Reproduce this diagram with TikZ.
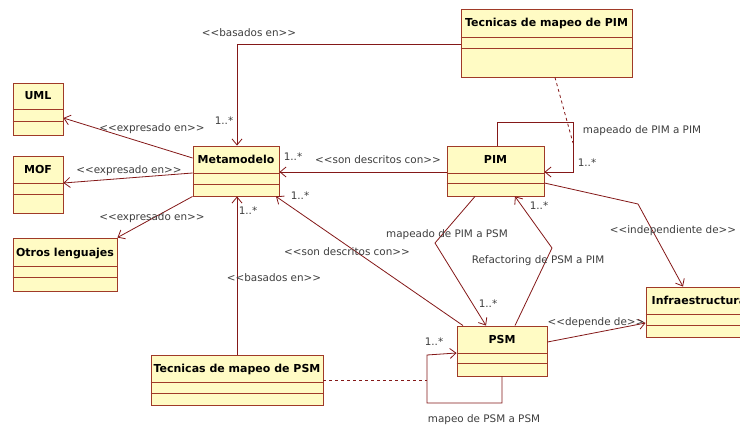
\documentclass[tikz,border=0pt]{standalone}
\usepackage{fontspec}
\setmainfont{DejaVu Sans}
\usetikzlibrary{arrows.meta}

\definecolor{clsfill}{RGB}{255,251,196}
\definecolor{clsedge}{RGB}{160,58,40}
\definecolor{wire}{RGB}{132,24,24}
\definecolor{lbl}{RGB}{62,62,62}

\tikzset{
  cls/.style={rectangle, draw=clsedge, fill=clsfill, line width=0.9pt, inner sep=0pt},
  sepline/.style={draw=clsedge, line width=0.9pt},
  ttl/.style={font=\fontsize{11}{13}\selectfont\bfseries, text=black, inner sep=0pt,
              text height=8pt, text depth=0pt},
  assoc/.style={draw=wire, line width=0.8pt, -{Straight Barb[length=6pt,width=10pt]}},
  link/.style={draw=wire, line width=0.8pt},
  aclass/.style={draw=wire, line width=0.8pt, dash pattern=on 3pt off 3pt},
  lab/.style={font=\fontsize{10.4}{12}\selectfont, text=lbl, inner sep=0pt,
              text height=7.6pt, text depth=0pt},
}

% stereotype text with plain angle brackets (no guillemet ligature)
\newcommand\stereo[1]{<{}<#1>{}>}

% class box: name, x1, y1, x2, y2, first separator y, second separator y, title
\newcommand\umlclass[8]{%
  \node[cls, minimum width={(#4-#2)*1pt}, minimum height={(#5-#3)*1pt}]
    (#1) at ({(#2+#4)/2},{(#3+#5)/2}) {};
  \draw[sepline] (#1.west |- 0,#6) -- (#1.east |- 0,#6)
                 (#1.west |- 0,#7) -- (#1.east |- 0,#7);
  \node[ttl] (#1-t) at ({(#2+#4)/2},{(#3+#6)/2}) {#8};
}

\begin{document}
\begin{tikzpicture}[x=1pt,y=-1pt]
  \clip (0,0) rectangle (740,428);
  \fill[white] (0,0) rectangle (740,428);

  % classes
  \umlclass{uml}{13}{83}{63}{135}{109}{121}{UML}
  \umlclass{mof}{13}{156}{63}{213}{183}{194}{MOF}
  \umlclass{otros}{13}{238}{117}{291}{266}{277}{Otros lenguajes}
  \umlclass{meta}{193}{146}{279}{196}{173}{184}{Metamodelo}
  \umlclass{pim}{447}{146}{544}{196}{173}{183}{PIM}
  \umlclass{tpim}{461}{9}{632}{77}{37}{48}{Tecnicas de mapeo de PIM}
  \umlclass{infra}{646}{287}{752}{337}{314}{325}{Infraestructura}
  \umlclass{psm}{457}{326}{547}{376}{353}{363}{PSM}
  \umlclass{tpsm}{151}{355}{323}{405}{382}{393}{Tecnicas de mapeo de PSM}

  % Metamodelo and the languages that express it
  \draw[assoc] (meta.west |- 0,158) -- (uml.east |- 0,118);
  \draw[assoc] (meta.west |- 0,173) -- (mof.east |- 0,183);
  \draw[assoc] (meta.south west) -- (otros.north east);
  \node[lab] (l-uml) at (152,128) {\stereo{expresado en}};
  \node[lab] (l-mof) at (129,170) {\stereo{expresado en}};
  \node[lab] (l-otros) at (152,217) {\stereo{expresado en}};

  % mapping techniques based on the metamodel
  \draw[assoc] (tpim.west |- 0,44) -- (237,44) -- (237,0 |- meta.north);
  \node[lab] (l-bas1) at (249,33) {\stereo{basados en}};
  \node[lab] (m-bas1) at (224,121) {1..*};

  \draw[assoc] (237,0 |- tpsm.north) -- (237,0 |- meta.south);
  \node[lab] (l-bas2) at (274,278) {\stereo{basados en}};
  \node[lab] (m-bas2) at (248,211) {1..*};

  % models described with the metamodel
  \draw[assoc] (pim.west |- 0,172) -- (meta.east |- 0,172);
  \node[lab] (l-desc1) at (378,160) {\stereo{son descritos con}};
  \node[lab] (m-desc1) at (293,157) {1..*};

  \draw[assoc] (463,0 |- psm.north) -- (276,0 |- meta.south);
  \node[lab] (l-desc2) at (347,252) {\stereo{son descritos con}};
  \node[lab] (m-desc2) at (300,196) {1..*};

  % PIM <-> PSM transformations
  \draw[assoc] (475,0 |- pim.south) -- (435,243) -- (486,0 |- psm.north);
  \node[lab] (l-pim2psm) at (447,234) {mapeado de PIM a PSM};
  \node[lab] (m-pim2psm) at (488,304) {1..*};

  \draw[assoc] (515,0 |- psm.north) -- (552,248) -- (515,0 |- pim.south);
  \node[lab] (l-refac) at (538,260) {Refactoring de PSM a PIM};
  \node[lab] (m-refac) at (539,206) {1..*};

  % platform dependence
  \draw[assoc] (pim.east |- 0,183) -- (638,204) -- (683,0 |- infra.north);
  \node[lab] (l-indep) at (673,230) {\stereo{independiente de}};

  \draw[assoc] (psm.east |- 0,342) -- (infra.west |- 0,323);
  \node[lab] (l-dep) at (596,322) {\stereo{depende de}};

  % PIM to PIM mapping, with its association class
  \draw[assoc] (497,0 |- pim.north) -- (497,122) -- (573,122) -- (573,172) -- (pim.east |- 0,172);
  \coordinate (pimloop) at (573,143);
  \draw[aclass] (555,0 |- tpim.south) -- (pimloop);
  \node[lab] (l-pimloop) at (642,130) {mapeado de PIM a PIM};
  \node[lab] (m-pimloop) at (587,163) {1..*};

  % PSM to PSM mapping, with its association class
  \draw[assoc] (502,0 |- psm.south) -- (502,403) -- (427,403) -- (427,355) -- (psm.west |- 0,353);
  \coordinate (psmloop) at (427,380);
  \draw[aclass] (tpsm.east |- 0,380) -- (psmloop);
  \node[lab] (l-psmloop) at (484,419) {mapeo de PSM a PSM};
  \node[lab] (m-psmloop) at (434,342) {1..*};
\end{tikzpicture}
\end{document}
